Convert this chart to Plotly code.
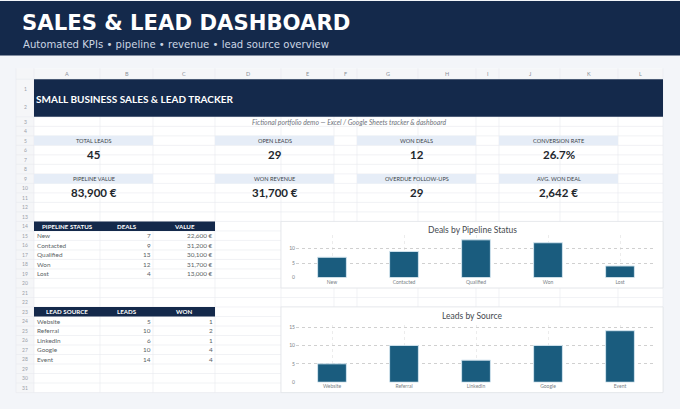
import plotly.graph_objects as go

W, H = 680, 409

# ---------------- data ----------------
pipeline_status = ["New", "Contacted", "Qualified", "Won", "Lost"]
pipeline_deals = [7, 9, 13, 12, 4]
pipeline_value = [22600, 31200, 30100, 31700, 13000]

lead_sources = ["Website", "Referral", "LinkedIn", "Google", "Event"]
source_leads = [5, 10, 6, 10, 14]
source_won = [1, 2, 1, 4, 4]

kpi_labels_row1 = ["TOTAL LEADS", "OPEN LEADS", "WON DEALS", "CONVERSION RATE"]
kpi_values_row1 = ["45", "29", "12", "26.7%"]
kpi_labels_row2 = ["PIPELINE VALUE", "WON REVENUE", "OVERDUE FOLLOW-UPS", "AVG. WON DEAL"]
kpi_values_row2 = ["83,900 €", "31,700 €", "29", "2,642 €"]

col_letters = ["A", "B", "C", "D", "E", "F", "G", "H", "I", "J", "K", "L"]
n_rows = 31

# ---------------- styling / geometry ----------------
NAVY = "#14294b"
BG = "#f3f5f9"
GRID = "#e8eaee"
HDR = "#f5f6f8"
KPI_BG = "#e6edf7"
BAR = "#1a5c7e"
FONT = "Lato"

col_edges = [34, 100, 153, 215, 281, 334, 357, 418, 476, 499, 560, 618, 663]


def row_top(r):
    if r <= 3:
        return 79 + 19 * (r - 1)
    return 117 + 9.6 * (r - 3)


def row_bot(r):
    return row_top(r + 1)


shapes = []
annotations = []


def X(x):
    return x / W


def Y(y):
    return 1 - y / H


def rect(x0, y0, x1, y1, fill, line=None, lw=0):
    shapes.append(dict(type="rect", xref="paper", yref="paper",
                       x0=X(x0), x1=X(x1), y0=Y(y1), y1=Y(y0),
                       fillcolor=fill, line=dict(color=line or fill, width=lw),
                       layer="below"))


def seg(x0, y0, x1, y1, color, w=0.6):
    shapes.append(dict(type="line", xref="paper", yref="paper",
                       x0=X(x0), x1=X(x1), y0=Y(y0), y1=Y(y1),
                       line=dict(color=color, width=w), layer="below"))


def text(x, y, s, size, color, anchor="center", weight="normal", style="normal", family=FONT):
    annotations.append(dict(x=X(x), y=Y(y), xref="paper", yref="paper", text=s,
                            showarrow=False, xanchor=anchor, yanchor="middle",
                            font=dict(family=family, size=size, color=color,
                                      weight=weight, style=style),
                            borderpad=0))


# top banner
rect(0, 0, W, 55, NAVY)
text(21, 22, "SALES & LEAD DASHBOARD", 21.2, "white", anchor="left", weight="bold",
     family="DejaVu Sans")
text(22, 44, "Automated KPIs • pipeline • revenue • lead source overview", 10.1,
     "#cbd5e3", anchor="left", family="DejaVu Sans")

# sheet body
sheet_bottom = row_bot(n_rows)
rect(16, 68, 663, sheet_bottom, "white")
rect(16, 68, 663, 79, HDR)
rect(16, 68, 34, sheet_bottom, HDR)

# grid lines
for xe in [16] + col_edges:
    seg(xe, 68, xe, sheet_bottom, GRID)
for r in range(1, n_rows + 2):
    if r == 2:
        continue
    seg(16, row_top(r), 663, row_top(r), GRID)

# column letters and row numbers
for i, c in enumerate(col_letters):
    text((col_edges[i] + col_edges[i + 1]) / 2, 74, c, 5.5, "#8a8f98")
for r in range(1, n_rows + 1):
    text(25, (row_top(r) + row_bot(r)) / 2, str(r), 5, "#9aa0a8")

# sheet title band
rect(34, row_top(1), 663, row_bot(2), NAVY)
text(35, 99, "SMALL BUSINESS SALES & LEAD TRACKER", 10, "white", anchor="left", weight="bold")
text(349, (row_top(3) + row_bot(3)) / 2,
     "Fictional portfolio demo — Excel / Google Sheets tracker & dashboard", 6.8, "#6f747c",
     style="italic")

# KPI cards
card_cols = [(0, 2), (3, 5), (6, 8), (9, 11)]
for labels, values, lab_row in [(kpi_labels_row1, kpi_values_row1, 5),
                                (kpi_labels_row2, kpi_values_row2, 9)]:
    for (c0, c1), lab, val in zip(card_cols, labels, values):
        x0, x1 = col_edges[c0], col_edges[c1]
        rect(x0, row_top(lab_row), x1, row_bot(lab_row), KPI_BG)
        cx = (x0 + x1) / 2
        text(cx, (row_top(lab_row) + row_bot(lab_row)) / 2, lab, 5.6, "#3a3f47")
        text(cx, (row_top(lab_row + 1) + row_bot(lab_row + 2)) / 2, val, 11.5, "#22262c",
             weight="bold")


# tables
def table(head_row, headers, names, col2, col3, fmt3):
    rect(col_edges[0], row_top(head_row), col_edges[3], row_bot(head_row), NAVY)
    for i, h in enumerate(headers):
        text((col_edges[i] + col_edges[i + 1]) / 2, (row_top(head_row) + row_bot(head_row)) / 2,
             h, 6.2, "white", weight="bold")
    for k, (n, a, b) in enumerate(zip(names, col2, col3)):
        r = head_row + 1 + k
        yc = (row_top(r) + row_bot(r)) / 2
        text(35.5, yc, n, 6.4, "#5a5f66", anchor="left")
        text(col_edges[2] - 1.5, yc, str(a), 6.4, "#5a5f66", anchor="right")
        text(col_edges[3] - 1.5, yc, fmt3(b), 6.4, "#5a5f66", anchor="right")


table(14, ["PIPELINE STATUS", "DEALS", "VALUE"], pipeline_status, pipeline_deals,
      pipeline_value, lambda v: f"{v:,} €")
table(23, ["LEAD SOURCE", "LEADS", "WON"], lead_sources, source_leads, source_won, str)

# chart boxes
c1_top, c1_bot = row_top(14), row_bot(20)
c2_top, c2_bot = row_top(23), row_bot(31)
rect(281, c1_top, 663, c1_bot, "white", line="#e2e4e8", lw=0.8)
rect(281, c2_top, 663, c2_bot, "white", line="#e2e4e8", lw=0.8)
text(472, c1_top + 9, "Deals by Pipeline Status", 8.5, "#44484e")
text(472, c2_top + 9, "Leads by Source", 8.5, "#44484e")

fig = go.Figure()
fig.add_trace(go.Bar(x=pipeline_status, y=pipeline_deals, xaxis="x", yaxis="y",
                     marker=dict(color=BAR, line=dict(color="#d2e4ee", width=1)),
                     width=0.4, showlegend=False, hoverinfo="skip"))
fig.add_trace(go.Bar(x=lead_sources, y=source_leads, xaxis="x2", yaxis="y2",
                     marker=dict(color=BAR, line=dict(color="#d2e4ee", width=1)),
                     width=0.4, showlegend=False, hoverinfo="skip"))

xdom = [X(296), X(656)]
ax_common = dict(showline=False, ticks="", tickfont=dict(family=FONT, size=5, color="#7a7f86"),
                 fixedrange=True)
fig.update_layout(
    xaxis=dict(domain=xdom, anchor="y", showgrid=True, gridcolor="#ececec", griddash="dot",
               gridwidth=0.6, zeroline=False, **ax_common),
    yaxis=dict(domain=[Y(279.3), Y(236.5)], anchor="x", range=[0, 14.6], tickvals=[0, 5, 10],
               showgrid=True, gridcolor="#d0d0d0", griddash="dot", gridwidth=0.8,
               zeroline=True, zerolinecolor="white", **ax_common),
    xaxis2=dict(domain=xdom, anchor="y2", showgrid=True, gridcolor="#ececec", griddash="dot",
                gridwidth=0.6, zeroline=False, **ax_common),
    yaxis2=dict(domain=[Y(385), Y(327)], anchor="x2", range=[0, 15.6], tickvals=[0, 5, 10, 15],
                showgrid=True, gridcolor="#d0d0d0", griddash="dot", gridwidth=0.8,
                zeroline=True, zerolinecolor="white", **ax_common),
    width=W, height=H, margin=dict(l=0, r=0, t=0, b=0),
    paper_bgcolor=BG, plot_bgcolor="rgba(0,0,0,0)",
    shapes=shapes, annotations=annotations, bargap=0.6,
)

fig.write_html("out.html", config={"displayModeBar": False},
               post_script="document.body.style.margin='0';document.body.style.overflow='hidden';")
